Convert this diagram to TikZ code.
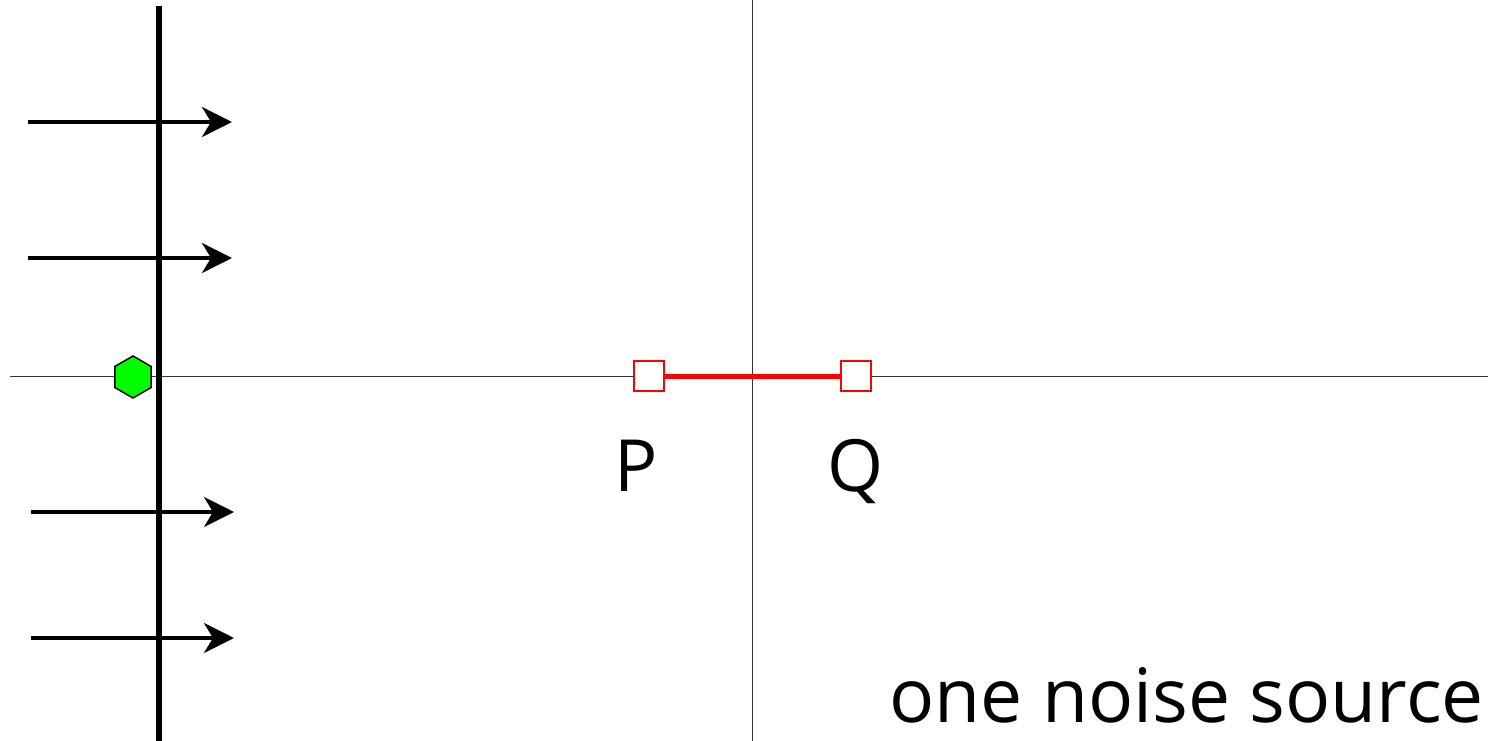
\documentclass[tikz,border=0pt]{standalone}
\usepackage{fontspec}
\setmainfont{Open Sans}
\usetikzlibrary{arrows.meta,shapes.geometric}

\begin{document}
\begin{tikzpicture}[
  x=1pt, y=-1pt,
  axis/.style={draw=black!80, line width=1pt},
  wall/.style={draw=black, line width=5.5pt},
  flow/.style={-{Stealth[length=30pt, width=30pt, inset=9pt]}, line width=4pt},
  probe/.style={draw=red, line width=2.5pt, fill=white, minimum size=30pt, inner sep=0pt},
  source/.style={regular polygon, regular polygon sides=6, shape border rotate=30, draw=black, line width=1.5pt, fill=green, minimum size=42pt, inner sep=0pt},
  lbl/.style={font=\fontsize{72}{84}\selectfont, inner sep=0pt}
]
\useasboundingbox (0,0) rectangle (1488,741);

% axes
\coordinate (xl) at (10,376);
\coordinate (xr) at (1488,376);
\coordinate (yt) at (752,0);
\coordinate (yb) at (752,741);
\draw[axis] (xl) -- (xr);
\draw[axis] (yt) -- (yb);

% wall with incoming flow
\coordinate (wt) at (159,6);
\coordinate (wb) at (159,741);
\draw[wall] (wt) -- (wb);
\foreach \y/\xa/\xb [count=\i] in {122/28/232, 258/28/232, 512/31/234, 638/31/234} {
  \coordinate (f\i a) at (\xa,\y);
  \coordinate (f\i b) at (\xb,\y);
  \draw[flow] (f\i a) -- (f\i b);
}

\node[source] (src) at (133,377) {};

% two points
\node[probe] (P) at (649,376) {};
\node[probe] (Q) at (856,376) {};
\draw[red, line width=5pt] (P) -- (Q);
\node[lbl, anchor=base] (Plbl) at (636,491) {P};
\node[lbl, anchor=base] (Qlbl) at (856,491) {Q};

\node[lbl, anchor=base east, font=\fontsize{75}{88}\selectfont] (title) at (1484,722) {one noise source};
\end{tikzpicture}
\end{document}
